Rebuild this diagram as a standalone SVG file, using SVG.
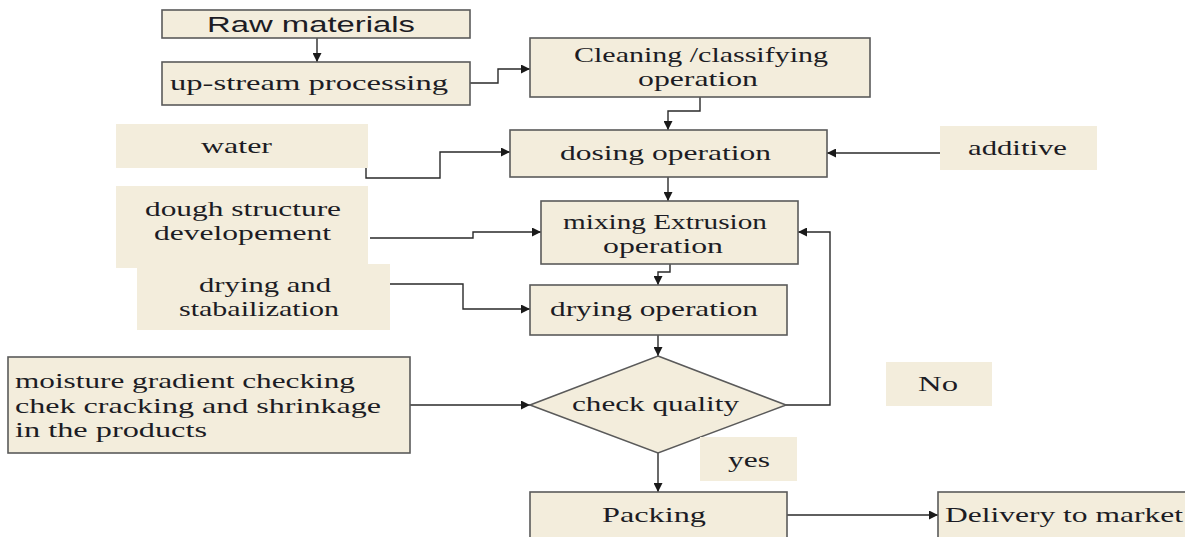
<svg xmlns="http://www.w3.org/2000/svg" width="1185" height="537" viewBox="0 0 1185 537">
<style>
.box{fill:#f3eddc;stroke:#5a5a5a;stroke-width:1.6}
.lbl{fill:#f3eddc;stroke:none}
.t{font-family:"Liberation Serif","Times New Roman",serif;font-size:22px;fill:#1c1c24}
.s{font-family:"Liberation Sans",Arial,sans-serif;font-size:22px;fill:#1c1c24}
.c{fill:none;stroke:#2a2a2a;stroke-width:1.4;marker-end:url(#ah)}
</style>
<defs>
<marker id="ah" viewBox="0 0 10 10" refX="10" refY="5" markerWidth="9" markerHeight="9" markerUnits="userSpaceOnUse" orient="auto">
<path d="M0,0 L10,5 L0,10 z" fill="#1a1a1a"/>
</marker>
</defs>
<rect width="1185" height="537" fill="#ffffff"/>
<g id="connectors">
<path class="c" d="M317,38 V62"/>
<path class="c" d="M470,83 H498 V69 H530"/>
<path class="c" d="M700,97 V111 H668 V130"/>
<path class="c" d="M366,168 V178 H440 V152 H510"/>
<path class="c" d="M940,153 H827"/>
<path class="c" d="M668,177 V201"/>
<path class="c" d="M370,238 H473 V232 H541"/>
<path class="c" d="M670,264 V272 H658 V285"/>
<path class="c" d="M390,284 H463 V309 H530"/>
<path class="c" d="M658,335 V356"/>
<path class="c" d="M410,405 H530"/>
<path class="c" d="M786,405 H830 V232 H798"/>
<path class="c" d="M658,453 V492"/>
<path class="c" d="M787,515 H938"/>
</g>
<g id="raw"><rect class="box" x="162" y="10" width="308" height="28"/><text class="s" x="207" y="32" textLength="208" lengthAdjust="spacingAndGlyphs">Raw materials</text></g>
<g id="upstream"><rect class="box" x="162" y="62" width="308" height="43"/><text class="t" x="170" y="90" textLength="278" lengthAdjust="spacingAndGlyphs">up-stream processing</text></g>
<g id="cleaning"><rect class="box" x="530" y="38" width="340" height="59"/><text class="t" x="574" y="62" textLength="254" lengthAdjust="spacingAndGlyphs">Cleaning /classifying</text><text class="t" x="638" y="86" textLength="120" lengthAdjust="spacingAndGlyphs">operation</text></g>
<g id="water"><rect class="lbl" x="116" y="124" width="252" height="44"/><text class="t" x="201" y="153" textLength="71" lengthAdjust="spacingAndGlyphs">water</text></g>
<g id="dosing"><rect class="box" x="510" y="130" width="317" height="47"/><text class="t" x="560" y="160" textLength="211" lengthAdjust="spacingAndGlyphs">dosing operation</text></g>
<g id="additive"><rect class="lbl" x="940" y="126" width="157" height="44"/><text class="t" x="968" y="155" textLength="99" lengthAdjust="spacingAndGlyphs">additive</text></g>
<g id="dough"><rect class="lbl" x="116" y="186" width="252" height="82"/><text class="t" x="145" y="216" textLength="196" lengthAdjust="spacingAndGlyphs">dough structure</text><text class="t" x="154" y="240" textLength="177" lengthAdjust="spacingAndGlyphs">developement</text></g>
<g id="mixing"><rect class="box" x="541" y="201" width="257" height="63"/><text class="t" x="563" y="229" textLength="204" lengthAdjust="spacingAndGlyphs">mixing Extrusion</text><text class="t" x="603" y="253" textLength="120" lengthAdjust="spacingAndGlyphs">operation</text></g>
<g id="stabil"><rect class="lbl" x="137" y="264" width="253" height="66"/><text class="t" x="199" y="292" textLength="132" lengthAdjust="spacingAndGlyphs">drying and</text><text class="t" x="179" y="316" textLength="160" lengthAdjust="spacingAndGlyphs">stabailization</text></g>
<g id="drying"><rect class="box" x="530" y="285" width="257" height="50"/><text class="t" x="550" y="316" textLength="208" lengthAdjust="spacingAndGlyphs">drying operation</text></g>
<g id="moisture"><rect class="box" x="8" y="357" width="402" height="96"/><text class="t" x="15" y="388" textLength="340" lengthAdjust="spacingAndGlyphs">moisture gradient checking</text><text class="t" x="15" y="413" textLength="366" lengthAdjust="spacingAndGlyphs">chek cracking and shrinkage</text><text class="t" x="15" y="437" textLength="192" lengthAdjust="spacingAndGlyphs">in the products</text></g>
<g id="check"><polygon class="box" points="658,356 786,405 658,453 530,405"/><text class="t" x="572" y="411" textLength="167" lengthAdjust="spacingAndGlyphs">check quality</text></g>
<g id="no"><rect class="lbl" x="886" y="362" width="106" height="44"/><text class="t" x="918" y="391" textLength="40" lengthAdjust="spacingAndGlyphs">No</text></g>
<g id="yes"><rect class="lbl" x="700" y="437" width="97" height="44"/><text class="t" x="728" y="467" textLength="42" lengthAdjust="spacingAndGlyphs">yes</text></g>
<g id="packing"><rect class="box" x="530" y="492" width="257" height="50"/><text class="t" x="602" y="522" textLength="104" lengthAdjust="spacingAndGlyphs">Packing</text></g>
<g id="delivery"><rect class="box" x="938" y="492" width="252" height="50"/><text class="t" x="945" y="522" textLength="238" lengthAdjust="spacingAndGlyphs">Delivery to market</text></g>
</svg>
